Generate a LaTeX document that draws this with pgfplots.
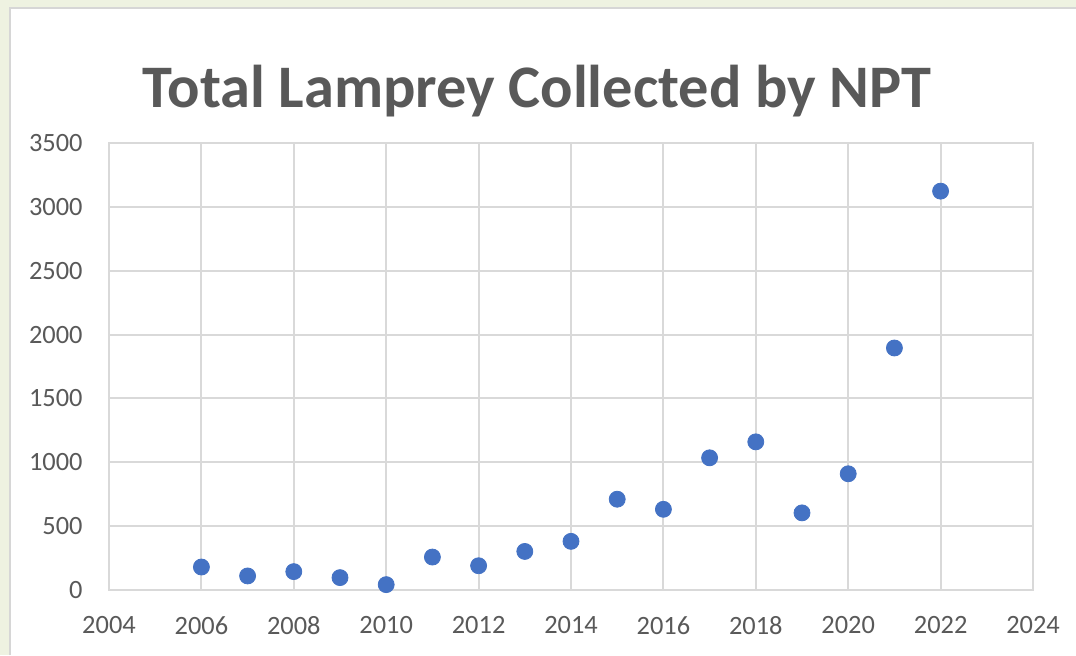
\documentclass[border=0pt]{standalone}
\usepackage{pgfplots}
\pgfplotsset{compat=1.18}
\usepackage{fontspec}
\setmainfont{Carlito}
\definecolor{bgout}{RGB}{238,242,225}
\definecolor{frameg}{RGB}{214,214,214}
\definecolor{gridg}{RGB}{217,217,217}
\definecolor{txtg}{RGB}{89,89,89}
\definecolor{ptblue}{RGB}{68,114,196}
\begin{document}
\begin{tikzpicture}[x=1pt,y=1pt]
\useasboundingbox (0,0) rectangle (538,327.5);
\fill[bgout] (0,0) rectangle (538,327.5);
\fill[white] (5,0) rectangle (538,323.5);
\draw[frameg, line width=1pt] (5,0) -- (5,323.5) -- (538,323.5);
\node[anchor=base, text=txtg, font=\fontsize{30.2}{36}\selectfont\bfseries, inner sep=0pt] at (268.5,273.5) {Total Lamprey Collected by NPT};
\begin{axis}[
  at={(54.5pt,32.5pt)}, anchor=south west,
  scale only axis, width=462pt, height=223.5pt,
  xmin=2004, xmax=2024, ymin=0, ymax=3500,
  xtick={2004,2006,...,2024}, ytick={0,500,...,3500},
  grid=major, major grid style={gridg, line width=1pt},
  axis line style={gridg, line width=1pt},
  major tick length=0pt,
  /pgf/number format/assume math mode=true,
  /pgf/number format/1000 sep={},
  ticklabel style={font=\fontsize{13.2}{16}\selectfont, text=txtg, inner sep=0pt},
  xticklabel style={anchor=north, yshift=-13pt},
  yticklabel style={anchor=east, xshift=-13pt},
  clip=false,
]
\addplot[only marks, mark=*, mark size=4pt, mark options={fill=ptblue, draw=ptblue}] coordinates {
(2006,180) (2007,110) (2008,144) (2009,97) (2010,42) (2011,258) (2012,190)
(2013,302) (2014,381) (2015,711) (2016,632) (2017,1035) (2018,1160)
(2019,604) (2020,910) (2021,1895) (2022,3123)
};
\end{axis}
\end{tikzpicture}
\end{document}
